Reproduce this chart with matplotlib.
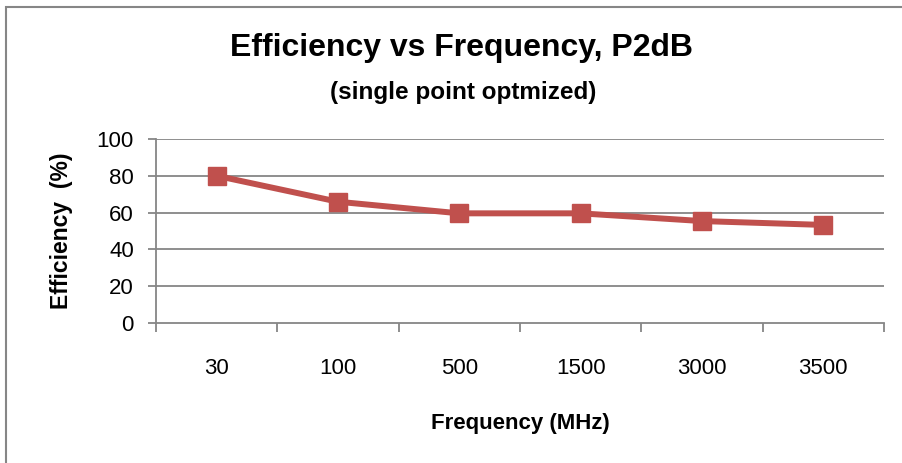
import numpy as np
import matplotlib.pyplot as plt
from matplotlib.patches import Rectangle

plt.rcParams['font.family'] = ['Liberation Sans', 'DejaVu Sans']

freqs = ['30', '100', '500', '1500', '3000', '3500']
efficiency = [80, 65.9, 59.6, 59.6, 55.4, 53.3]
y_ticks = [0, 20, 40, 60, 80, 100]

W, H = 903, 463
fig = plt.figure(figsize=(W / 100, H / 100), dpi=100)

# outer chart frame
fig.patches.append(Rectangle((6 / W, -0.1), 1.2, (H - 6.5) / H + 0.1,
                             transform=fig.transFigure, fill=False,
                             edgecolor='#868686', linewidth=1.5))

ax = fig.add_axes([156 / W, (H - 323) / H, (884 - 156) / W, (323 - 139) / H])
x = np.arange(len(freqs))
ax.plot(x, efficiency, color='#C0504D', linewidth=4.3, marker='s',
        markersize=13, markerfacecolor='#C0504D', markeredgecolor='#C0504D',
        zorder=3, clip_on=False)

ax.set_xlim(-0.5, len(freqs) - 0.5)
ax.set_ylim(0, 100)
ax.set_yticks(y_ticks)
ax.set_yticklabels([str(v) for v in y_ticks], fontsize=16)
ax.set_xticks(x)
ax.set_xticklabels(freqs, fontsize=16)
ax.set_xticks(np.arange(-0.5, len(freqs)), minor=True)
ax.tick_params(axis='x', which='major', length=0, pad=25)
ax.tick_params(axis='x', which='minor', length=6.5, width=1.3, color='#868686', direction='out')
ax.tick_params(axis='y', length=6, width=1.3, color='#868686', direction='out', pad=10)

for v in y_ticks[1:]:
    ax.axhline(v, color='#868686', linewidth=1.3, zorder=1)

for s in ['top', 'right']:
    ax.spines[s].set_visible(False)
for s in ['left', 'bottom']:
    ax.spines[s].set_color('#868686')
    ax.spines[s].set_linewidth(1.3)

ax.set_xlabel('Frequency (MHz)', fontsize=16, fontweight='bold', labelpad=25)
ax.set_ylabel('Efficiency  (%)', fontsize=16.5, fontweight='bold', labelpad=17)

fig.text(461 / W, 1 - 48 / H, 'Efficiency vs Frequency, P2dB', fontsize=23,
         fontweight='bold', ha='center', va='center')
fig.text(463 / W, 1 - 92 / H, '(single point optmized)', fontsize=17.5,
         fontweight='bold', ha='center', va='center')

fig.savefig('out.png', dpi=100)
